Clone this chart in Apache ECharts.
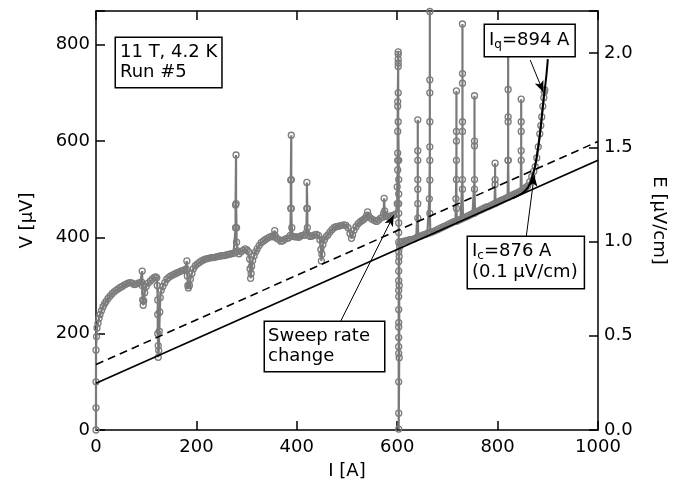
<!DOCTYPE html>
<html>
<head>
<meta charset="utf-8">
<script src="https://cdn.jsdelivr.net/npm/echarts@6/dist/echarts.min.js"></script>
<style>html,body{margin:0;padding:0;background:#fff}#c{width:678px;height:485px}</style>
</head>
<body>
<div id="c"></div>
<script>
// ---- data ----
// measured trace: current I [A] and voltage V [µV], in acquisition order
const traceCurrent = [
0,0,0,0,1,2,4,6,8,11,14,17,20,24,28,32,36,40,44,48,52,56,60,64,68,72,76,80,84,88,91,92,92,93,94,95,97,100,104,108,112,116,119,121,122,123,123,123,124,124,125,126,127,128,130,133,137,141,145,149,153,157,161,165,169,173,177,180,181,182,183,184,186,188,191,194,198,202,206,210,214,218,222,226,230,234,238,242,246,250,254,258,262,266,270,274,277,278,278,279,279,280,280,282,285,289,293,297,301,304,306,307,308,309,310,312,315,318,321,325,329,333,337,341,345,349,353,355,356,357,360,364,368,372,376,380,384,387,388,388,389,389,389,390,392,396,400,404,408,412,416,419,420,420,421,421,423,427,431,435,439,443,446,448,449,450,452,455,458,462,466,470,474,478,482,486,490,494,498,502,506,509,511,514,518,522,526,530,533,536,539,541,543,547,551,555,559,563,567,571,573,574,575,577,581,585,589,593,597,
600,600,601,601,601,601,601,601,602,602,602,602,602,602,602,603,603,603,603,603,603,603,603,603,603,603,603,603,603,603,603,603,603,603,603,603,603,603,604,604,604,605,606,608,
610,614,618,622,626,630,634,638,640,641,641,641,641,641,641,641,642,644,648,652,656,660,663,664,665,665,665,665,665,665,665,665,666,668,672,676,680,684,688,692,696,700,704,708,712,716,717,718,718,718,718,718,718,719,722,726,729,730,730,730,730,730,730,730,731,734,738,742,746,750,753,754,754,754,754,754,755,758,762,766,770,774,778,782,786,790,794,795,795,795,796,800,804,808,812,816,820,821,821,821,821,821,821,822,826,830,834,838,842,846,847,847,847,847,847,848,852,856,860,864,868,872,875,878,881,884,886,888,890,892,893,894
];
const traceVoltage = [
0,46,100,166,194,212,222,232,240,248,256,262,267,273,278,283,287,290,293,296,298,301,303,305,306,305,302,303,305,306,307,330,300,270,259,268,285,298,305,309,313,317,318,316,300,270,240,200,175,151,165,205,245,275,290,298,306,313,317,320,322,324,326,328,330,331,333,334,351,320,300,295,300,313,325,335,341,345,348,351,353,355,356,357,358,358,359,360,361,362,362,363,364,365,366,367,368,420,467,571,470,420,390,372,366,370,373,376,374,370,355,335,315,325,340,352,362,370,376,383,389,392,395,398,400,402,401,405,414,403,398,396,392,393,396,398,399,404,460,519,612,520,460,420,402,401,401,400,403,404,405,410,460,514,460,420,404,402,403,405,406,404,395,375,351,365,385,395,401,405,411,416,420,422,423,424,425,426,425,420,408,398,405,415,422,428,432,435,437,440,445,453,445,440,437,435,433,436,440,442,450,481,455,444,443,444,445,446,448,
470,505,540,560,575,620,672,682,755,770,785,780,762,700,640,560,520,490,470,450,430,410,390,370,350,330,310,290,277,250,223,214,192,173,159,100,35,2,150,300,360,380,388,390,
391,392,393,394,395,396,397,399,400,470,520,580,644,560,500,440,401,402,403,405,406,408,409,480,560,640,727,869,700,588,519,450,410,411,412,414,416,418,420,422,424,426,428,430,432,433,480,560,620,704,600,520,460,434,436,437,439,520,640,720,843,740,620,500,440,441,443,445,447,449,450,520,600,694,590,500,451,453,455,457,459,461,463,464,466,468,470,520,554,510,471,473,475,477,479,481,483,560,640,707,790,650,560,484,486,488,490,492,494,496,580,640,687,620,560,497,500,503,507,515,526,537,547,565,588,615,632,650,672,690,702,706
];
// fitted E-I curve (black) near the transition
const fitCurrent = [830, 845, 855, 862, 868, 874, 878, 882, 885, 888, 892, 895, 898, 900];
const fitVoltage = [481, 489, 497, 506, 522, 545, 568, 595, 620, 650, 690, 716, 745, 770];
// background (solid) and criterion (dashed, +0.1 µV/cm) lines
const baseLine = [[0, 97], [1000, 560]];
const criterionLine = [[0, 136], [1000, 599]];
// axis settings
const vMax = 870;              // µV at top of plot
const eMax = 2.223;            // µV/cm at top of plot
const xTicks = [0, 200, 400, 600, 800, 1000];
// annotation arrows: [from, to] in data coordinates (I, V)
const arrowSweep = [[487, 225], [593, 446]];
const arrowIq = [[865, 768], [891, 702]];
const arrowIc = [[857, 401], [873, 529]];

const FONT = '"DejaVu Sans", "Liberation Sans", Arial, sans-serif';
const trace = traceCurrent.map((x, i) => [x, traceVoltage[i]]);
const fit = fitCurrent.map((x, i) => [x, fitVoltage[i]]);

const chart = echarts.init(document.getElementById('c'), null, {renderer: 'canvas'});
const mkLine = () => ({show: true, onZero: false, lineStyle: {color: '#000', width: 1.5}});
const mkTick = () => ({show: true, inside: true, length: 9, lineStyle: {color: '#000', width: 1.5}});
const labelStyle = {color: '#000', fontFamily: FONT, fontSize: 18};

const boxStyle = {
  fill: '#000', font: '18px ' + FONT, backgroundColor: '#fff',
  borderColor: '#000', borderWidth: 1.5, align: 'left', verticalAlign: 'top'
};
const rich = {
  n: {fontFamily: FONT, fontSize: 18, lineHeight: 21, color: '#000'},
  s: {fontFamily: FONT, fontSize: 12, lineHeight: 12, verticalAlign: 'bottom', color: '#000'}
};

chart.setOption({
  animation: false,
  grid: {left: 96, right: 80, top: 11, bottom: 55},
  xAxis: [
    {type: 'value', min: 0, max: 1000, interval: 200, position: 'bottom',
     axisLine: mkLine(), axisTick: mkTick(), splitLine: {show: false},
     axisLabel: Object.assign({margin: 8, formatter: v => xTicks.includes(v) ? String(v) : ''}, labelStyle),
     name: 'I [A]', nameLocation: 'middle', nameGap: 32, nameTextStyle: labelStyle},
    {type: 'value', min: 0, max: 1000, interval: 200, position: 'top',
     axisLine: mkLine(), axisTick: mkTick(), splitLine: {show: false}, axisLabel: {show: false}}
  ],
  yAxis: [
    {type: 'value', min: 0, max: vMax, interval: 200, position: 'left',
     axisLine: mkLine(), axisTick: mkTick(), splitLine: {show: false},
     axisLabel: Object.assign({margin: 6, formatter: v => (v % 200 === 0 ? String(v) : '')}, labelStyle),
     name: 'V [µV]', nameLocation: 'middle', nameGap: 60, nameRotate: 90, nameTextStyle: labelStyle},
    {type: 'value', min: 0, max: eMax, interval: 0.5, position: 'right',
     axisLine: mkLine(), axisTick: mkTick(), splitLine: {show: false},
     axisLabel: Object.assign({margin: 6, formatter: v => (Math.abs(v * 2 - Math.round(v * 2)) < 1e-6 ? v.toFixed(1) : '')}, labelStyle),
     name: 'E [µV/cm]', nameLocation: 'middle', nameGap: 52, nameRotate: -90, nameTextStyle: labelStyle}
  ],
  series: [
    {type: 'line', name: 'trace', data: trace, xAxisIndex: 0, yAxisIndex: 0,
     symbol: 'circle', symbolSize: 6, showAllSymbol: true,
     lineStyle: {color: '#7a7a7a', width: 2.2},
     itemStyle: {color: 'rgba(0,0,0,0)', borderColor: '#7c7c7c', borderWidth: 1.3},
     z: 2},
    {type: 'line', name: 'base', data: baseLine, symbol: 'none',
     lineStyle: {color: '#000', width: 1.8}, z: 4,
     markLine: {
       silent: true, symbol: ['none', 'arrow'], symbolSize: [7, 11], animation: false,
       label: {show: false}, lineStyle: {color: '#000', width: 1, type: 'solid'},
       data: [
         [{coord: arrowSweep[0]}, {coord: arrowSweep[1]}],
         [{coord: arrowIq[0]}, {coord: arrowIq[1]}],
         [{coord: arrowIc[0]}, {coord: arrowIc[1]}]
       ]
     }},
    {type: 'line', name: 'criterion', data: criterionLine, symbol: 'none',
     lineStyle: {color: '#000', width: 1.6, type: [8, 5]}, z: 4},
    {type: 'line', name: 'fit', data: fit, symbol: 'none', smooth: true,
     lineStyle: {color: '#000', width: 2}, z: 5}
  ],
  graphic: [
    {type: 'text', x: 116, y: 38, z: 10,
     style: Object.assign({}, boxStyle, {text: '11 T, 4.2 K\nRun #5', lineHeight: 19.5, padding: [5, 4, 5, 4]})},
    {type: 'text', x: 485, y: 25, z: 10,
     style: Object.assign({}, boxStyle, {text: '{n|I}{s|q}{n|=894 A}', rich, padding: [5, 5, 5, 4]})},
    {type: 'text', x: 468, y: 237, z: 10,
     style: Object.assign({}, boxStyle, {text: '{n|I}{s|c}{n|=876 A}\n{n|(0.1 µV/cm)}', rich, padding: [4, 6, 5, 4]})},
    {type: 'text', x: 265, y: 322, z: 10,
     style: Object.assign({}, boxStyle, {text: 'Sweep rate\nchange', lineHeight: 19.5, padding: [5, 14, 5, 3]})}
  ]
});
</script>
</body>
</html>
